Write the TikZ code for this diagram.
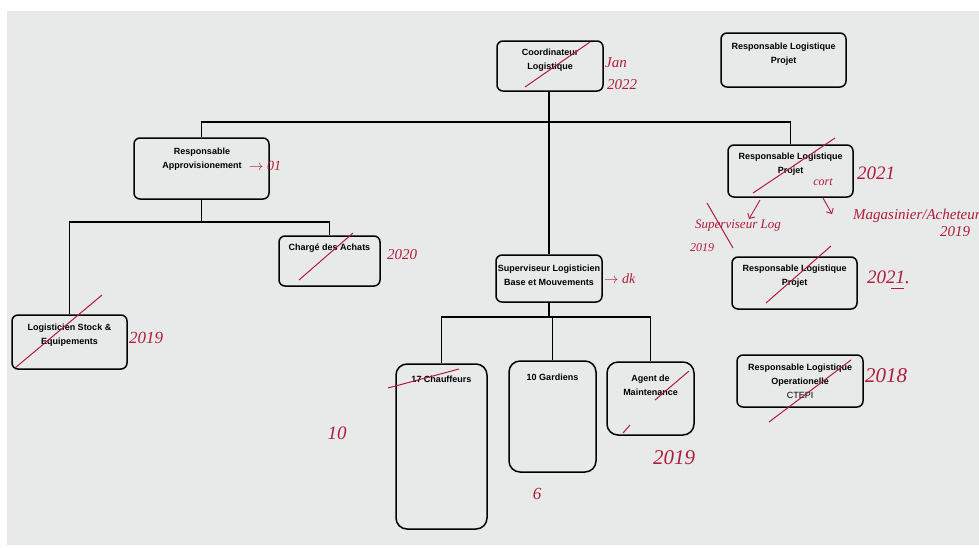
\documentclass[tikz,border=0pt]{standalone}
\usepackage{fontspec}
\setmainfont{Liberation Sans}
\newfontfamily\hand{Liberation Serif}[ItalicFont={Liberation Serif Italic}]
\usetikzlibrary{arrows.meta}

\definecolor{paper}{RGB}{232,234,233}
\definecolor{ink}{RGB}{176,28,58}

\tikzset{
  box/.style={draw, line width=1.5pt, rounded corners=6pt, inner sep=0pt},
  tallbox/.style={box, rounded corners=11pt},
  txt/.style={align=center, inner sep=0pt, font=\fontsize{9}{14}\selectfont\bfseries},
  note/.style={ink, inner sep=0pt, font=\hand\itshape\fontsize{#1}{#1}\selectfont},
  note/.default=16,
  strike/.style={ink, line width=1pt},
  wire/.style={line width=1.3pt}
}

\begin{document}
\begin{tikzpicture}[x=1pt,y=-1pt]

  \useasboundingbox (0,0) rectangle (979,547);
  \fill[paper] (7,11) rectangle (979,545);

  \node (coord)  at (550,66)      [box, minimum width=106pt, minimum height=50pt] {};
  \node (rlpA)   at (783.5,60)    [box, minimum width=125pt, minimum height=54pt] {};
  \node (appro)  at (201.5,168.5) [box, minimum width=135pt, minimum height=61pt] {};
  \node (rlpB)   at (790.5,171)   [box, minimum width=125pt, minimum height=52pt] {};
  \node (achats) at (329.5,261)   [box, minimum width=101pt, minimum height=50pt] {};
  \node (superv) at (549,278.5)   [box, minimum width=106pt, minimum height=47pt] {};
  \node (rlpC)   at (794.5,283)   [box, minimum width=125pt, minimum height=52pt] {};
  \node (logist) at (69.5,342)    [box, minimum width=115pt, minimum height=54pt] {};
  \node (chauff) at (441.5,446.5) [tallbox, minimum width=91pt, minimum height=165pt] {};
  \node (gard)   at (552.5,416.5) [tallbox, minimum width=87pt, minimum height=111pt] {};
  \node (agent)  at (650.5,398.5) [tallbox, minimum width=87pt, minimum height=73pt] {};
  \node (ctepi)  at (800,381)     [box, minimum width=126pt, minimum height=52pt] {};

  \node (coord-t)  at (550,60)    [txt] {Coordinateur\\Logistique};
  \node (rlpA-t)   at (783.5,54)  [txt] {Responsable Logistique\\Projet};
  \node (appro-t)  at (202,159.5) [txt] {Responsable\\Approvisionement};
  \node (rlpB-t)   at (790.5,164) [txt] {Responsable Logistique\\Projet};
  \node (achats-t) at (329.5,248) [txt] {Chargé des Achats};
  \node (superv-t) at (549,275)   [txt] {Superviseur Logisticien\\Base et Mouvements};
  \node (rlpC-t)   at (794.5,276.5) [txt] {Responsable Logistique\\Projet};
  \node (logist-t) at (69.5,335)  [txt] {Logisticien Stock \&\\Equipements};
  \node (chauff-t) at (441.5,379) [txt] {17 Chauffeurs};
  \node (gard-t)   at (552.5,377) [txt] {10 Gardiens};
  \node (agent-t)  at (650.5,385) [txt] {Agent de\\Maintenance};
  \node (ctepi-t)  at (800,381)   [txt] {Responsable Logistique\\Operationelle\\\mdseries CTEPI};

  \coordinate (busT) at (549,122);
  \coordinate (busA) at (201.5,222);
  \coordinate (busS) at (549,317);

  \draw[wire] (superv.north |- coord.south) -- (superv.north);
  \draw[wire] (appro.north) |- (busT) -| (rlpB.north);
  \draw[wire] (appro) -- (busA);
  \draw[wire] (logist.north) |- (busA) -| (achats.north);
  \draw[wire] (superv) -- (busS);
  \draw[wire] (chauff.north) |- (busS) -| (agent.north);
  \draw[wire] (gard.north |- busS) -- (gard.north);

  \draw[strike] (525,87) -- (590,42);
  \draw[strike] (299,280) -- (353,233);
  \draw[strike] (15,368) -- (102,295);
  \draw[strike] (753,193) -- (835,138);
  \draw[strike] (766,303) -- (831,246);
  \draw[strike] (769,422) -- (851,360);
  \draw[strike] (388,388) -- (459,369);
  \draw[strike] (655,400) -- (689,371);
  \draw[strike] (623,433) -- (630,425);
  \draw[strike] (707,203) -- (733,248);

  \node (n-appro)  at (249,166) [note=14, anchor=west] {$\rightarrow$ 01};
  \node (n-jan)    at (605,63)  [note=15, anchor=west] {Jan};
  \node (n-coord)  at (607,85)  [note=15, anchor=west] {2022};
  \node (n-achats) at (387,255) [note=15, anchor=west] {2020};
  \node (n-logist) at (129,338) [note=17, anchor=west] {2019};
  \node (n-cort)   at (823,182) [note=12] {cort};
  \node (n-rlpB)   at (857,173) [note=19, anchor=west] {2021};
  \node (n-sup)    at (695,226) [note=13, anchor=west] {Superviseur Log};
  \node (n-sup2)   at (690,248) [note=12, anchor=west] {2019};
  \node (n-mag)    at (853,216) [note=15, anchor=west] {Magasinier/Acheteur};
  \node (n-mag2)   at (940,232) [note=15, anchor=west] {2019};
  \node (n-superv) at (604,279) [note=14, anchor=west] {$\rightarrow$ dk};
  \node (n-rlpC)   at (867,277) [note=19, anchor=west] {2021.};
  \node (n-ctepi)  at (865,376) [note=21, anchor=west] {2018};
  \node (n-agent)  at (653,458) [note=21, anchor=west] {2019};
  \node (n-ten)    at (337,433) [note=19] {10};
  \node (n-six)    at (537,494) [note=17] {6};

  \draw[ink, line width=.9pt, -{Straight Barb[length=4pt]}] (760,200) -- (749,219);
  \draw[ink, line width=.9pt, -{Straight Barb[length=4pt]}] (823,198) -- (832,214);
  \draw[ink, line width=.9pt] (891,288) -- (904,288);

\end{tikzpicture}
\end{document}
